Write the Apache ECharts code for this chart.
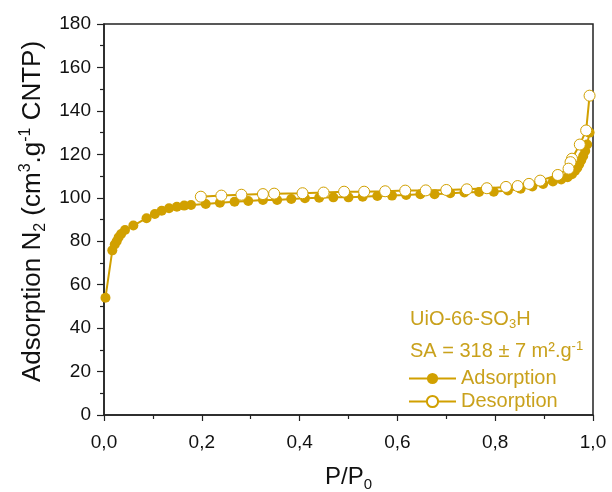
<!DOCTYPE html>
<html><head><meta charset="utf-8">
<script src="https://cdn.jsdelivr.net/npm/echarts@6/dist/echarts.min.js"></script>
<style>html,body{margin:0;padding:0;background:#fff}#c{width:612px;height:492px}</style>
</head><body><div id="c"></div>
<script>
const adsP = [0.003, 0.017, 0.022, 0.026, 0.030, 0.035, 0.043, 0.060, 0.087, 0.104, 0.118, 0.133, 0.149, 0.164, 0.178, 0.208, 0.237, 0.267, 0.295, 0.325, 0.354, 0.383, 0.411, 0.44, 0.469, 0.5, 0.529, 0.559, 0.589, 0.618, 0.647, 0.676, 0.708, 0.737, 0.767, 0.797, 0.826, 0.852, 0.876, 0.898, 0.918, 0.935, 0.948, 0.957, 0.963, 0.968, 0.972, 0.976, 0.980, 0.984, 0.988, 0.993];
const adsV = [54, 75.8, 78.5, 80, 81.8, 83.3, 85.2, 87.2, 90.6, 92.5, 94, 95.2, 95.9, 96.4, 96.7, 97.1, 97.7, 98.2, 98.5, 99, 99, 99.4, 99.8, 100, 100.2, 100.2, 100.5, 100.8, 101, 101.3, 101.6, 101.6, 102.1, 102.4, 102.7, 102.8, 103.4, 104.2, 105.2, 106.4, 107.5, 108.4, 109.5, 110.8, 112.3, 113.8, 115.5, 117.3, 119.2, 121.5, 124.5, 130];
const desP = [0.993, 0.986, 0.973, 0.957, 0.954, 0.95, 0.928, 0.892, 0.869, 0.846, 0.822, 0.783, 0.742, 0.7, 0.658, 0.616, 0.575, 0.532, 0.491, 0.449, 0.406, 0.348, 0.325, 0.281, 0.24, 0.198];
const desV = [147, 131, 124.5, 118, 116.4, 113.4, 110.5, 107.9, 106.4, 105.4, 105, 104.4, 103.9, 103.6, 103.4, 103.3, 103, 102.8, 102.8, 102.4, 102.1, 101.9, 101.7, 101.4, 101, 100.5];
const xTicks = [0, 0.2, 0.4, 0.6, 0.8, 1.0];
const yTicks = [0, 20, 40, 60, 80, 100, 120, 140, 160, 180];

const gold = '#d1a000';
const txtGold = '#c9a11c';
const font = 'Liberation Sans, Arial, sans-serif';
const chart = echarts.init(document.getElementById('c'));
chart.setOption({
  backgroundColor: '#fff',
  animation: false,
  grid: {left: 104, right: 19, top: 24, bottom: 77, containLabel: false, outerBoundsMode: 'none',
    show: true, borderColor: '#222', borderWidth: 1.5, backgroundColor: 'transparent'},
  xAxis: {
    type: 'value', min: xTicks[0], max: xTicks[xTicks.length-1], interval: 0.2,
    axisLine: {show: true, lineStyle: {color: '#222', width: 1.5}},
    axisTick: {show: true, length: 6, lineStyle: {color: '#222', width: 1.2}},
    minorTick: {show: true, splitNumber: 2, length: 4, lineStyle: {color: '#222', width: 1.2}},
    splitLine: {show: false},
    axisLabel: {color: '#111', fontSize: 19, fontFamily: font, margin: 18,
      formatter: v => v.toFixed(1).replace('.', ',')},
    name: 'P/P{sub|0}', nameLocation: 'middle', nameGap: 48,
    nameTextStyle: {color: '#111', fontSize: 24, fontFamily: font,
      rich: {sub: {fontSize: 15, fontFamily: font, color: '#111', verticalAlign: 'bottom', padding: [14, 0, 0, 0]}}}
  },
  yAxis: {
    type: 'value', min: yTicks[0], max: yTicks[yTicks.length-1], interval: 20,
    axisLine: {show: true, lineStyle: {color: '#222', width: 1.5}},
    axisTick: {show: true, length: 7, lineStyle: {color: '#222', width: 1.2}},
    minorTick: {show: true, splitNumber: 2, length: 4, lineStyle: {color: '#222', width: 1.2}},
    splitLine: {show: false},
    axisLabel: {color: '#111', fontSize: 19, fontFamily: font, margin: 13},
    name: 'Adsorption N{sub|2} (cm{sup|3}.g{sup|-1} CNTP)', nameLocation: 'middle', nameGap: 55, nameRotate: 90,
    nameTextStyle: {color: '#111', fontSize: 26, fontFamily: font, padding: [0, 0, 0, 16],
      rich: {
        sub: {fontSize: 16, fontFamily: font, color: '#111', verticalAlign: 'bottom', padding: [15, 0, 0, 0]},
        sup: {fontSize: 16, fontFamily: font, color: '#111', verticalAlign: 'top', padding: [0, 0, 13, 0]}
      }}
  },
  legend: {
    orient: 'vertical', left: 403, top: 363, itemGap: 2, itemWidth: 47, itemHeight: 14,
    textStyle: {color: txtGold, fontSize: 20, fontFamily: font, lineHeight: 21},
    data: ['Adsorption', 'Desorption']
  },
  graphic: [
    {type: 'text', left: 410, top: 309, style: {
      text: '{a|UiO-66-SO}{s|3}{a|H}',
      rich: {a: {fontSize: 20, fontFamily: font, fill: txtGold},
             s: {fontSize: 13, fontFamily: font, fill: txtGold, verticalAlign: 'bottom', padding: [11, 0, 0, 0]}}}},
    {type: 'text', left: 410, top: 340, style: {
      text: '{a|SA = 318 ± 7 m².g}{p|-1}',
      rich: {a: {fontSize: 20, fontFamily: font, fill: txtGold},
             p: {fontSize: 13, fontFamily: font, fill: txtGold, verticalAlign: 'top', padding: [0, 0, 9, 0]}}}}
  ],
  series: [
    {name: 'Adsorption', type: 'line', data: adsP.map((p, i) => [p, adsV[i]]),
     symbol: 'circle', symbolSize: 10, lineStyle: {color: gold, width: 2},
     itemStyle: {color: gold, borderColor: gold, borderWidth: 0}, z: 2},
    {name: 'Desorption', type: 'line', data: desP.map((p, i) => [p, desV[i]]),
     symbol: 'circle', symbolSize: 11, lineStyle: {color: gold, width: 2},
     itemStyle: {color: '#fff', borderColor: gold, borderWidth: 1}, z: 3}
  ]
});
</script></body></html>
